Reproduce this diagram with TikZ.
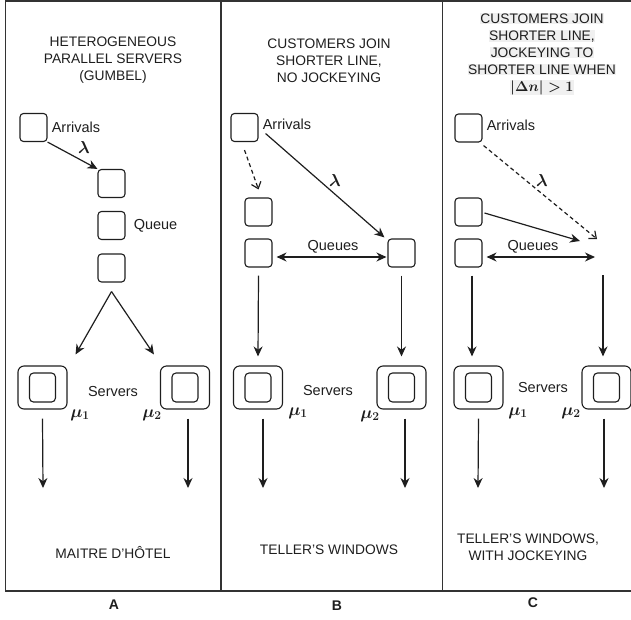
\documentclass[tikz,border=0pt]{standalone}
\usepackage{fontspec}
\setmainfont{Liberation Sans}
\usetikzlibrary{arrows.meta,positioning}
\definecolor{ink}{HTML}{1E1E1E}
\definecolor{framecol}{HTML}{333333}
\definecolor{hilite}{HTML}{F0F0F0}
\newcommand{\hlline}[1]{{\setlength{\fboxsep}{0.6pt}\colorbox{hilite}{#1}}}

\begin{document}
\begin{tikzpicture}[x=1pt, y=-1pt,
    font=\fontsize{14}{17}\selectfont,
    qbox/.style={draw=ink, line width=1.1pt, rounded corners=3.5pt,
                 minimum width=27pt, minimum height=28pt, inner sep=0pt},
    srvbox/.style={draw=ink, line width=1.1pt, rounded corners=6pt,
                   minimum width=49pt, minimum height=43pt, inner sep=0pt},
    inbox/.style={draw=ink, line width=1.1pt, rounded corners=4pt,
                  minimum width=26pt, minimum height=29pt, inner sep=0pt},
    title/.style={align=center, text=ink, inner sep=0pt,
                  font=\fontsize{13.8}{17}\selectfont},
    lbl/.style={text=ink, inner sep=1pt, font=\fontsize{14.5}{17}\selectfont},
    mathlbl/.style={text=ink, inner sep=1pt, font=\fontsize{17.28}{20}\selectfont\boldmath},
    flow/.style={draw=ink, line width=1.2pt, -{Stealth[length=10pt,width=9pt]}},
    both/.style={draw=ink, line width=1.2pt,
                 {Stealth[length=10pt,width=9pt]}-{Stealth[length=10pt,width=9pt]}},
    maybe/.style={draw=ink, line width=1.2pt, dash pattern=on 4pt off 3pt,
                  -{Straight Barb[length=6pt,width=10pt]}},
    framing/.style={draw=framecol, line width=1.3pt},
  ]
\useasboundingbox (0,0) rectangle (631,619);

% frame and panel rules
\draw[framing] (631,1) -- (5.5,1) -- (5.5,591) -- (631,591);
\draw[framing] (221,1) -- (221,591);
\draw[framing] (442.5,1) -- (442.5,591);

% ---- A: heterogeneous parallel servers
\node[title] (tA) at (113,60) {HETEROGENEOUS\\PARALLEL SERVERS\\(GUMBEL)};

\node[qbox] (arrA) at (33.5,127.5) {};
\node[lbl, right=3pt of arrA] (arrAl) {Arrivals};
\node[qbox] (qA1) at (111.5,183.5) {};
\node[qbox] (qA2) at (111.5,225.5) {};
\node[qbox] (qA3) at (111.5,268) {};
\node[lbl, right=7pt of qA2] (qAl) {Queue};
\node[mathlbl] (lamA) at (84,147) {$\lambda$};

\node[srvbox] (srvA1) at (42.5,387.5) {};
\node[inbox] (inA1) at (srvA1.center) {};
\node[srvbox] (srvA2) at (185,387.5) {};
\node[inbox] (inA2) at (srvA2.center) {};
\node[lbl] (srvAl) at (113,391) {Servers};
\node[mathlbl] (muA1) at (80,415) {$\mu_1$};
\node[mathlbl] (muA2) at (152,415) {$\mu_2$};
\coordinate (outA1) at (43,488);
\coordinate (outA2) at (188,488);

\draw[flow] (arrA.south east) -- (qA1.north west);
\draw[flow] ([yshift=-9pt]qA3.south) -- ([xshift=8pt,yshift=11pt]srvA1.north east);
\draw[flow] ([yshift=-9pt]qA3.south) -- ([xshift=-6pt,yshift=11pt]srvA2.north west);
\draw[flow] ([yshift=-9pt]srvA1.south) -- (outA1);
\draw[flow] ([xshift=3pt,yshift=-9pt]srvA2.south) -- (outA2);

\node[title] (capA) at (113,553) {MAITRE D'HÔTEL};
\node[font=\bfseries\fontsize{14}{17}\selectfont, text=ink] (letA) at (114,605) {A};

% ---- B: shorter line, no jockeying
\node[title] (tB) at (329,61) {CUSTOMERS JOIN\\SHORTER LINE,\\NO JOCKEYING};

\node[qbox] (arrB) at (244.5,127.5) {};
\node[lbl, right=3pt of arrB, yshift=3pt] (arrBl) {Arrivals};
\node[qbox] (qB1) at (258.5,212) {};
\node[qbox] (qB2) at (258.5,253) {};
\node[qbox] (qB3) at (401.5,253) {};
\node[mathlbl] (lamB) at (335,180) {$\lambda$};
\node[lbl] (qBl) at (333,247) {Queues};

\node[srvbox] (srvB1) at (258,387.5) {};
\node[inbox] (inB1) at (srvB1.center) {};
\node[srvbox] (srvB2) at (401.5,387.5) {};
\node[inbox] (inB2) at (srvB2.center) {};
\node[lbl] (srvBl) at (328,390) {Servers};
\node[mathlbl] (muB1) at (298,413) {$\mu_1$};
\node[mathlbl] (muB2) at (370,416) {$\mu_2$};
\coordinate (outB1) at (263,488);
\coordinate (outB2) at (405,488);

\draw[maybe] ([yshift=-8pt]arrB.south) -- ([yshift=8pt]qB1.north);
\draw[flow] ([xshift=7pt,yshift=-6pt]arrB.east) -- ([xshift=-3pt,yshift=1pt]qB3.north west);
\draw[both] ([xshift=4pt,yshift=-4pt]qB2.east) -- ([xshift=-1pt,yshift=-4pt]qB3.west);
\draw[flow] ([yshift=-8pt]qB2.south) -- ([yshift=9pt]srvB1.north);
\draw[flow] ([yshift=-8pt]qB3.south) -- ([yshift=9pt]srvB2.north);
\draw[flow] ([xshift=5pt,yshift=-9pt]srvB1.south) -- (outB1);
\draw[flow] ([xshift=3.5pt,yshift=-9pt]srvB2.south) -- (outB2);

\node[title] (capB) at (329,550) {TELLER'S WINDOWS};
\node[font=\bfseries\fontsize{14}{17}\selectfont, text=ink] (letB) at (337,606) {B};

% ---- C: shorter line, with jockeying
\node[title] (tC) at (542,54) {\hlline{CUSTOMERS JOIN}\\\hlline{SHORTER LINE,}\\
  \hlline{JOCKEYING TO}\\\hlline{SHORTER LINE WHEN}\\
  \hlline{\fontsize{14.4}{17}\selectfont\boldmath$|\Delta n| > 1$}};

\node[qbox] (arrC) at (468.5,128) {};
\node[lbl, right=3pt of arrC, yshift=3pt] (arrCl) {Arrivals};
\node[qbox] (qC1) at (468.5,212) {};
\node[qbox] (qC2) at (468.5,253) {};
\coordinate (qC3) at (603,253);
\node[mathlbl] (lamC) at (542,180) {$\lambda$};
\node[lbl] (qCl) at (533,247) {Queues};

\node[srvbox] (srvC1) at (478.5,387.5) {};
\node[inbox] (inC1) at (srvC1.center) {};
\node[srvbox] (srvC2) at (606.5,387.5) {};
\node[inbox] (inC2) at (srvC2.center) {};
\node[lbl] (srvCl) at (543,387) {Servers};
\node[mathlbl] (muC1) at (518,413) {$\mu_1$};
\node[mathlbl] (muC2) at (571,413) {$\mu_2$};
\coordinate (outC1) at (478,488);
\coordinate (outC2) at (604,488);

\draw[maybe] ([xshift=1pt,yshift=-3pt]arrC.south east) -- ([xshift=-6pt,yshift=14pt]qC3);
\draw[flow] ([xshift=2pt,yshift=-1pt]qC1.east) -- ([xshift=-23pt,yshift=12pt]qC3);
\draw[both] ([xshift=4pt,yshift=-4pt]qC2.east) -- ([xshift=-8pt,yshift=-4pt]qC3);
\draw[flow] ([xshift=3.5pt,yshift=-8pt]qC2.south) -- ([xshift=-6.5pt,yshift=9pt]srvC1.north);
\draw[flow] ([yshift=-22pt]qC3) -- ([xshift=-3.5pt,yshift=9pt]srvC2.north);
\draw[flow] ([yshift=-9pt]srvC1.south) -- (outC1);
\draw[flow] ([xshift=-2.5pt,yshift=-9pt]srvC2.south) -- (outC2);

\node[title] (capC) at (528,547) {TELLER'S WINDOWS,\\WITH JOCKEYING};
\node[font=\bfseries\fontsize{14}{17}\selectfont, text=ink] (letC) at (533,603) {C};

\end{tikzpicture}
\end{document}
